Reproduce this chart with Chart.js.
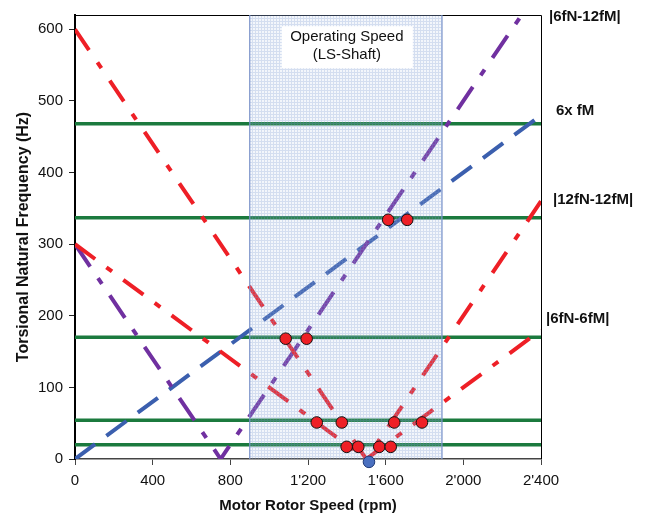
<!DOCTYPE html>
<html>
<head>
    <title>Torsional Campbell Diagram</title>
    <script src="https://cdn.jsdelivr.net/npm/chart.js"></script>
    <style>
        body {
            margin: 0;
            background: #fff;
        }
        #wrap {
            width: 646px;
            height: 517px;
        }
    </style>
</head>
<body>
    <div id="wrap"><canvas id="campbell"></canvas></div>

    <script>
        // excitation lines: motor speed breakpoints (rpm) and frequency (Hz)
        const rpm12N12M = [0, 1500, 2400];
        const hz12N12M = [600, 0, 360];
        const rpm6N6M = [0, 1500, 2400];
        const hz6N6M = [300, 0, 180];
        const rpm6N12M = [0, 750, 2400];
        const hz6N12M = [300, 0, 660];
        const rpm6FM = [0, 2400];
        const hz6FM = [0, 480];

        // torsional natural frequencies (Hz)
        const naturalFreqs = [20, 54, 170, 337, 468];

        // operating speed range, LS shaft (rpm)
        const opSpeed = [900, 1890];

        // resonance crossings inside the operating range
        const crossRpm = [1085, 1193, 1613, 1711, 1245, 1374, 1644, 1787, 1399, 1459, 1567, 1626];
        const crossHz = [168, 168, 334, 334, 51, 51, 51, 51, 17, 17, 17, 17];
        const zeroRpm = [1514];
        const zeroHz = [-4];

        const xTicks = [0, 400, 800, 1200, 1600, 2000, 2400];
        const xTickLabels = ['0', '400', '800', "1'200", "1'600", "2'000", "2'400"];
        const yTicks = [0, 100, 200, 300, 400, 500, 600];
        const seriesNames = ['|6fN-12fM|', '6x fM', '|12fN-12fM|', '|6fN-6fM|'];
        const boxLines = ['Operating Speed', '(LS-Shaft)'];

        const FONT = "'Liberation Sans', Arial, sans-serif";
        const RED = '#ee1f26';
        const PURPLE = '#7030a0';
        const BLUE = '#3b5fae';
        const GREEN = '#1b7a3e';

        const toPoints = (xs, ys) => xs.map((x, i) => ({ x: x, y: ys[i] }));

        // fine grid texture for the operating range
        const tile = document.createElement('canvas');
        tile.width = 3;
        tile.height = 3;
        const tctx = tile.getContext('2d');
        tctx.fillStyle = 'rgba(170,188,225,0.14)';
        tctx.fillRect(0, 0, 3, 3);
        tctx.fillStyle = 'rgba(125,150,208,0.26)';
        tctx.fillRect(0, 0, 3, 1);
        tctx.fillRect(0, 1, 1, 2);
        const shadePattern = tctx.createPattern(tile, 'repeat');

        function excitation(xs, ys, color, dash) {
            return {
                data: toPoints(xs, ys),
                showLine: true,
                borderColor: color,
                borderWidth: 4,
                borderDash: dash,
                borderCapStyle: 'butt',
                pointRadius: 0,
                fill: false,
                order: 3
            };
        }

        const datasets = [];

        datasets.push({
            data: toPoints(crossRpm, crossHz),
            pointRadius: 5.8,
            pointBackgroundColor: RED,
            pointBorderColor: '#111',
            pointBorderWidth: 1,
            clip: false,
            order: 0
        });
        datasets.push({
            data: toPoints(zeroRpm, zeroHz),
            pointRadius: 5.8,
            pointBackgroundColor: '#4a70c0',
            pointBorderColor: '#1f3a78',
            pointBorderWidth: 1,
            clip: false,
            order: 0
        });

        // operating range shading, laid over the lines
        datasets.push({
            data: toPoints(opSpeed, [620, 620]),
            showLine: true,
            borderWidth: 0,
            pointRadius: 0,
            backgroundColor: shadePattern,
            fill: 'origin',
            order: 1
        });
        opSpeed.forEach(s => {
            datasets.push({
                data: toPoints([s, s], [0, 620]),
                showLine: true,
                borderColor: '#7890c8',
                borderWidth: 1.2,
                pointRadius: 0,
                order: 1
            });
        });

        datasets.push(excitation(rpm12N12M, hz12N12M, RED, [25, 15, 7, 15]));
        datasets.push(excitation(rpm6N6M, hz6N6M, RED, [25, 14, 7, 14]));
        datasets.push(excitation(rpm6N12M, hz6N12M, PURPLE, [27, 14, 7, 14]));
        datasets.push(excitation(rpm6FM, hz6FM, BLUE, [25, 14]));

        naturalFreqs.forEach(f => {
            datasets.push({
                data: toPoints([0, 2400], [f, f]),
                showLine: true,
                borderColor: GREEN,
                borderWidth: 3.5,
                pointRadius: 0,
                order: 4
            });
        });

        const annotations = {
            id: 'annotations',
            beforeDatasetsDraw(chart) {
                const { ctx, chartArea } = chart;
                ctx.save();
                ctx.strokeStyle = '#000';
                ctx.lineWidth = 1;
                ctx.beginPath();
                ctx.moveTo(chartArea.left, chartArea.top + 0.5);
                ctx.lineTo(chartArea.right + 0.5, chartArea.top + 0.5);
                ctx.lineTo(chartArea.right + 0.5, chartArea.bottom);
                ctx.stroke();
                ctx.restore();
            },
            afterDatasetsDraw(chart) {
                const { ctx, chartArea, scales } = chart;
                ctx.save();

                // text box over the operating range
                const bx = scales.x.getPixelForValue(1400);
                const by = scales.y.getPixelForValue(575);
                ctx.fillStyle = '#fff';
                ctx.fillRect(bx - 65, by - 21, 131, 42);
                ctx.fillStyle = '#111';
                ctx.font = '15px ' + FONT;
                ctx.textAlign = 'center';
                ctx.textBaseline = 'middle';
                ctx.fillText(boxLines[0], bx, by - 10);
                ctx.fillText(boxLines[1], bx, by + 8);

                // series names to the right of the plot
                const nameHz = [618, 486, 362, 195];
                const nameDx = [8, 15, 12, 5];
                ctx.font = 'bold 15px ' + FONT;
                ctx.textAlign = 'left';
                seriesNames.forEach((name, i) => {
                    ctx.fillText(name, chartArea.right + nameDx[i], scales.y.getPixelForValue(nameHz[i]));
                });
                ctx.restore();
            }
        };

        const ctx = document.getElementById('campbell').getContext('2d');
        const chart = new Chart(ctx, {
            type: 'scatter',
            data: { datasets: datasets },
            plugins: [annotations],
            options: {
                responsive: true,
                maintainAspectRatio: false,
                animation: false,
                layout: {
                    padding: { left: 0, right: 105, top: 13, bottom: 0 }
                },
                plugins: {
                    legend: { display: false },
                    tooltip: { enabled: false }
                },
                scales: {
                    x: {
                        type: 'linear',
                        min: 0,
                        max: 2400,
                        afterFit: s => { s.height = 58; },
                        afterBuildTicks: s => { s.ticks = xTicks.map(v => ({ value: v })); },
                        ticks: {
                            padding: 7,
                            color: '#111',
                            font: { family: FONT, size: 15 },
                            maxRotation: 0,
                            callback: (v) => xTickLabels[xTicks.indexOf(v)]
                        },
                        grid: {
                            drawOnChartArea: false,
                            drawTicks: true,
                            tickLength: 6,
                            tickColor: '#444'
                        },
                        border: { color: '#444', width: 1.5 },
                        title: {
                            display: true,
                            text: 'Motor Rotor Speed (rpm)',
                            color: '#111',
                            font: { family: FONT, size: 15, weight: 'bold' },
                            padding: { top: 0, bottom: 2 }
                        }
                    },
                    y: {
                        min: 0,
                        max: 620,
                        afterFit: s => { s.width = 75; },
                        afterBuildTicks: s => { s.ticks = yTicks.map(v => ({ value: v })); },
                        ticks: {
                            padding: 6,
                            color: '#111',
                            font: { family: FONT, size: 15 }
                        },
                        grid: {
                            drawOnChartArea: false,
                            drawTicks: true,
                            tickLength: 6,
                            tickColor: '#222'
                        },
                        border: { color: '#000', width: 2 },
                        title: {
                            display: true,
                            text: 'Torsional Natural Frequency (Hz)',
                            color: '#111',
                            font: { family: FONT, size: 16, weight: 'bold' },
                            padding: { top: 14, bottom: 0 }
                        }
                    }
                }
            }
        });
    </script>
</body>
</html>
